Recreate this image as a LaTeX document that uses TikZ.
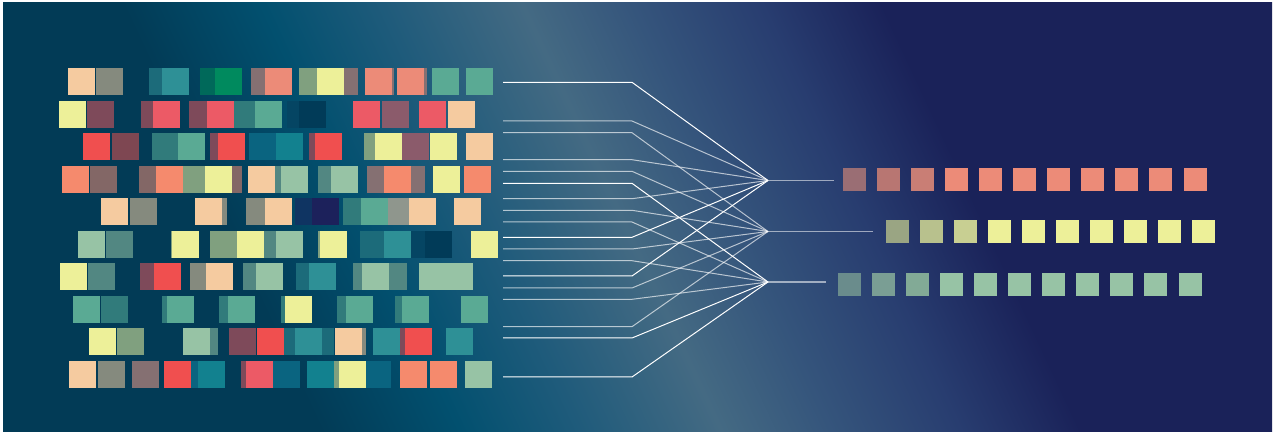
\documentclass[tikz,border=0pt]{standalone}
\definecolor{bgA}{HTML}{023B56}
\definecolor{bgB}{HTML}{02506F}
\definecolor{bgC}{HTML}{1F5B7B}
\definecolor{bgD}{HTML}{446A83}
\definecolor{bgE}{HTML}{35557C}
\definecolor{bgF}{HTML}{283D70}
\definecolor{bgG}{HTML}{1A2259}
\definecolor{peach}{HTML}{F5CBA0}
\definecolor{stone}{HTML}{858A7E}
\definecolor{dkteal}{HTML}{1C6B7A}
\definecolor{teal}{HTML}{2E9096}
\definecolor{pine}{HTML}{00695A}
\definecolor{jade}{HTML}{008A5E}
\definecolor{taupe}{HTML}{857072}
\definecolor{salmon}{HTML}{EC8B78}
\definecolor{olive}{HTML}{80A07F}
\definecolor{lemon}{HTML}{EDF099}
\definecolor{sea}{HTML}{5AAA94}
\definecolor{plum}{HTML}{7E4A5A}
\definecolor{wine}{HTML}{7E4752}
\definecolor{mauve}{HTML}{8B5B6B}
\definecolor{rose}{HTML}{EC5A66}
\definecolor{red}{HTML}{F04F4F}
\definecolor{deepteal}{HTML}{317B7B}
\definecolor{ink}{HTML}{013B58}
\definecolor{inkb}{HTML}{054563}
\definecolor{mint}{HTML}{97C3A5}
\definecolor{slate}{HTML}{528782}
\definecolor{coral}{HTML}{F58A6D}
\definecolor{cocoa}{HTML}{836766}
\definecolor{ocean}{HTML}{0A6480}
\definecolor{cyan}{HTML}{12818F}
\definecolor{navy}{HTML}{0F3462}
\definecolor{indigo}{HTML}{1C215B}
\definecolor{ash}{HTML}{8F968D}
\definecolor{pA}{HTML}{9A6E74}
\definecolor{pB}{HTML}{B87672}
\definecolor{pC}{HTML}{C97E75}
\definecolor{qA}{HTML}{9AA583}
\definecolor{qB}{HTML}{B8C18D}
\definecolor{qC}{HTML}{C8CF92}
\definecolor{uA}{HTML}{6A8C8C}
\definecolor{uB}{HTML}{7A9E94}
\definecolor{uC}{HTML}{82AA96}
\pgfdeclarehorizontalshading{backdrop}{100bp}{color(0bp)=(bgA); color(36.07bp)=(bgA); color(40.77bp)=(bgB); color(44.8bp)=(bgC); color(49.5bp)=(bgD); color(53.19bp)=(bgE); color(57.55bp)=(bgF); color(61.58bp)=(bgG); color(100bp)=(bgG)}
\begin{document}
\begin{tikzpicture}[x=1pt, y=-1pt, every node/.style={minimum size=27pt, inner sep=0pt, outer sep=0pt, anchor=west}, small/.style={minimum size=23pt}, wire/.style={white, line width=1pt}, faint/.style={white, opacity=0.65, line width=1pt}, lead/.style={white, opacity=0.55, line width=1.6pt}]
    \useasboundingbox (0,0) rectangle (1275,435);
    \fill[white] (0,0) rectangle (1275,435);
    \begin{scope}
        \clip (3,3) rectangle (1272,432);
        \begin{scope}[transform canvas={xslant=-0.466}]
            \shade[shading=backdrop] (-210,0) rectangle (1280,435);
        \end{scope}
    \end{scope}

    \node[fill=peach] (a1) at (68,81.5) {};
    \node[fill=stone] (a2) at (96,81.5) {};
    \node[fill=dkteal] (a3) at (149,81.5) {};
    \node[fill=teal] (a4) at (162,81.5) {};
    \node[fill=pine] (a5) at (200,81.5) {};
    \node[fill=jade] (a6) at (215,81.5) {};
    \node[fill=taupe] (a7) at (251,81.5) {};
    \node[fill=salmon] (a8) at (265,81.5) {};
    \node[fill=olive] (a9) at (299,81.5) {};
    \node[fill=taupe] (a10) at (331,81.5) {};
    \node[fill=lemon] (a11) at (317,81.5) {};
    \node[fill=taupe] (a12) at (367,81.5) {};
    \node[fill=salmon] (a13) at (365,81.5) {};
    \node[fill=taupe] (a14) at (400,81.5) {};
    \node[fill=salmon] (a15) at (397,81.5) {};
    \node[fill=sea] (a16) at (432,81.5) {};
    \node[fill=sea] (a17) at (466,81.5) {};

    \node[fill=lemon] (b1) at (59,114.5) {};
    \node[fill=plum] (b2) at (87,114.5) {};
    \node[fill=plum] (b3) at (141,114.5) {};
    \node[fill=rose] (b4) at (153,114.5) {};
    \node[fill=plum] (b5) at (189,114.5) {};
    \node[fill=rose] (b6) at (207,114.5) {};
    \node[fill=deepteal] (b7) at (234,114.5) {};
    \node[fill=sea] (b8) at (255,114.5) {};
    \node[fill=inkb] (b9) at (287,114.5) {};
    \node[fill=ink] (b10) at (299,114.5) {};
    \node[fill=rose] (b11) at (353,114.5) {};
    \node[fill=mauve] (b12) at (382,114.5) {};
    \node[fill=rose] (b13) at (419,114.5) {};
    \node[fill=peach] (b14) at (448,114.5) {};

    \node[fill=red] (c1) at (83,146.5) {};
    \node[fill=wine] (c2) at (112,146.5) {};
    \node[fill=deepteal] (c3) at (152,146.5) {};
    \node[fill=sea] (c4) at (178,146.5) {};
    \node[fill=plum] (c5) at (210,146.5) {};
    \node[fill=red] (c6) at (218,146.5) {};
    \node[fill=ocean] (c7) at (249,146.5) {};
    \node[fill=cyan] (c8) at (276,146.5) {};
    \node[fill=plum] (c9) at (309,146.5) {};
    \node[fill=red] (c10) at (315,146.5) {};
    \node[fill=olive] (c11) at (364,146.5) {};
    \node[fill=lemon] (c12) at (375,146.5) {};
    \node[fill=mauve] (c13) at (402,146.5) {};
    \node[fill=lemon] (c14) at (430,146.5) {};
    \node[fill=peach] (c15) at (466,146.5) {};

    \node[fill=coral] (d1) at (62,179.5) {};
    \node[fill=cocoa] (d2) at (90,179.5) {};
    \node[fill=cocoa] (d3) at (139,179.5) {};
    \node[fill=coral] (d4) at (156,179.5) {};
    \node[fill=olive] (d5) at (183,179.5) {};
    \node[fill=cocoa] (d6) at (215,179.5) {};
    \node[fill=lemon] (d7) at (205,179.5) {};
    \node[fill=peach] (d8) at (248,179.5) {};
    \node[fill=slate] (d9) at (275,179.5) {};
    \node[fill=mint] (d10) at (281,179.5) {};
    \node[fill=slate] (d11) at (318,179.5) {};
    \node[fill=mint] (d12) at (331,179.5) {};
    \node[fill=taupe] (d13) at (367,179.5) {};
    \node[fill=taupe] (d14) at (398,179.5) {};
    \node[fill=coral] (d15) at (384,179.5) {};
    \node[fill=lemon] (d16) at (433,179.5) {};
    \node[fill=coral] (d17) at (464,179.5) {};

    \node[fill=peach] (e1) at (101,211.5) {};
    \node[fill=stone] (e2) at (130,211.5) {};
    \node[fill=stone] (e3) at (200,211.5) {};
    \node[fill=peach] (e4) at (195,211.5) {};
    \node[fill=stone] (e5) at (246,211.5) {};
    \node[fill=peach] (e6) at (265,211.5) {};
    \node[fill=navy] (e7) at (295,211.5) {};
    \node[fill=indigo] (e8) at (312,211.5) {};
    \node[fill=deepteal] (e9) at (343,211.5) {};
    \node[fill=sea] (e10) at (361,211.5) {};
    \node[fill=ash] (e11) at (388,211.5) {};
    \node[fill=peach] (e12) at (409,211.5) {};
    \node[fill=peach] (e13) at (454,211.5) {};

    \node[fill=mint] (f1) at (78,244.5) {};
    \node[fill=slate] (f2) at (106,244.5) {};
    \node[fill=olive] (f3) at (171,244.5) {};
    \node[fill=lemon] (f4) at (172,244.5) {};
    \node[fill=olive] (f5) at (210,244.5) {};
    \node[fill=lemon] (f6) at (237,244.5) {};
    \node[fill=slate] (f7) at (264,244.5) {};
    \node[fill=mint] (f8) at (276,244.5) {};
    \node[fill=olive] (f9) at (318,244.5) {};
    \node[fill=lemon] (f10) at (320,244.5) {};
    \node[fill=dkteal] (f11) at (360,244.5) {};
    \node[fill=teal] (f12) at (384,244.5) {};
    \node[fill=inkb] (f13) at (411,244.5) {};
    \node[fill=ink] (f14) at (425,244.5) {};
    \node[fill=lemon] (f15) at (471,244.5) {};

    \node[fill=lemon] (g1) at (60,276.5) {};
    \node[fill=slate] (g2) at (88,276.5) {};
    \node[fill=plum] (g3) at (140,276.5) {};
    \node[fill=red] (g4) at (154,276.5) {};
    \node[fill=stone] (g5) at (190,276.5) {};
    \node[fill=peach] (g6) at (206,276.5) {};
    \node[fill=slate] (g7) at (243,276.5) {};
    \node[fill=mint] (g8) at (256,276.5) {};
    \node[fill=dkteal] (g9) at (296,276.5) {};
    \node[fill=teal] (g10) at (309,276.5) {};
    \node[fill=slate] (g11) at (353,276.5) {};
    \node[fill=slate] (g12) at (380,276.5) {};
    \node[fill=mint] (g13) at (362,276.5) {};
    \node[fill=mint] (g14) at (419,276.5) {};
    \node[fill=mint] (g15) at (446,276.5) {};

    \node[fill=sea] (h1) at (73,309.5) {};
    \node[fill=deepteal] (h2) at (101,309.5) {};
    \node[fill=deepteal] (h3) at (162,309.5) {};
    \node[fill=sea] (h4) at (167,309.5) {};
    \node[fill=deepteal] (h5) at (219,309.5) {};
    \node[fill=sea] (h6) at (228,309.5) {};
    \node[fill=deepteal] (h7) at (281,309.5) {};
    \node[fill=lemon] (h8) at (285,309.5) {};
    \node[fill=deepteal] (h9) at (337,309.5) {};
    \node[fill=sea] (h10) at (346,309.5) {};
    \node[fill=deepteal] (h11) at (395,309.5) {};
    \node[fill=sea] (h12) at (402,309.5) {};
    \node[fill=sea] (h13) at (461,309.5) {};

    \node[fill=lemon] (i1) at (89,341.5) {};
    \node[fill=olive] (i2) at (117,341.5) {};
    \node[fill=slate] (i3) at (191,341.5) {};
    \node[fill=mint] (i4) at (183,341.5) {};
    \node[fill=plum] (i5) at (229,341.5) {};
    \node[fill=red] (i6) at (257,341.5) {};
    \node[fill=dkteal] (i7) at (284,341.5) {};
    \node[fill=dkteal] (i8) at (307,341.5) {};
    \node[fill=teal] (i9) at (295,341.5) {};
    \node[fill=stone] (i10) at (339,341.5) {};
    \node[fill=peach] (i11) at (335,341.5) {};
    \node[fill=plum] (i12) at (378,341.5) {};
    \node[fill=teal] (i13) at (373,341.5) {};
    \node[fill=red] (i14) at (405,341.5) {};
    \node[fill=teal] (i15) at (446,341.5) {};

    \node[fill=peach] (j1) at (69,374.5) {};
    \node[fill=stone] (j2) at (98,374.5) {};
    \node[fill=taupe] (j3) at (132,374.5) {};
    \node[fill=red] (j4) at (164,374.5) {};
    \node[fill=ocean] (j5) at (191,374.5) {};
    \node[fill=cyan] (j6) at (198,374.5) {};
    \node[fill=plum] (j7) at (241,374.5) {};
    \node[fill=rose] (j8) at (246,374.5) {};
    \node[fill=ocean] (j9) at (273,374.5) {};
    \node[fill=cyan] (j10) at (307,374.5) {};
    \node[fill=olive] (j11) at (334,374.5) {};
    \node[fill=ocean] (j12) at (364,374.5) {};
    \node[fill=lemon] (j13) at (339,374.5) {};
    \node[fill=coral] (j14) at (400,374.5) {};
    \node[fill=coral] (j15) at (430,374.5) {};
    \node[fill=mint] (j16) at (465,374.5) {};

    \coordinate (hub1) at (768,180.5);
    \coordinate (hub2) at (768,231.5);
    \coordinate (hub3) at (768,282);
    \coordinate (s1) at (503,82.3);
    \coordinate (s2) at (503,121);
    \coordinate (s3) at (503,132.7);
    \coordinate (s4) at (503,159.7);
    \coordinate (s5) at (503,171.3);
    \coordinate (s6) at (503,183.3);
    \coordinate (s7) at (503,198.7);
    \coordinate (s8) at (503,210.3);
    \coordinate (s9) at (503,222);
    \coordinate (s10) at (503,237.3);
    \coordinate (s11) at (503,249);
    \coordinate (s12) at (503,260.7);
    \coordinate (s13) at (503,276);
    \coordinate (s14) at (503,288);
    \coordinate (s15) at (503,299.3);
    \coordinate (s16) at (503,326.7);
    \coordinate (s17) at (503,338);
    \coordinate (s18) at (503,377);
    \draw[wire] (s1) -- ++(129,0) -- (hub1);
    \draw[faint] (s2) -- ++(129,0) -- (hub1);
    \draw[faint] (s3) -- ++(129,0) -- (hub2);
    \draw[faint] (s4) -- ++(129,0) -- (hub1);
    \draw[faint] (s5) -- ++(129,0) -- (hub2);
    \draw[wire] (s6) -- ++(129,0) -- (hub3);
    \draw[faint] (s7) -- ++(129,0) -- (hub1);
    \draw[faint] (s8) -- ++(129,0) -- (hub2);
    \draw[faint] (s9) -- ++(129,0) -- (hub3);
    \draw[wire] (s10) -- ++(129,0) -- (hub1);
    \draw[faint] (s11) -- ++(129,0) -- (hub2);
    \draw[faint] (s12) -- ++(129,0) -- (hub3);
    \draw[wire] (s13) -- ++(129,0) -- (hub1);
    \draw[faint] (s14) -- ++(129,0) -- (hub2);
    \draw[faint] (s15) -- ++(129,0) -- (hub3);
    \draw[faint] (s16) -- ++(129,0) -- (hub2);
    \draw[wire] (s17) -- ++(129,0) -- (hub3);
    \draw[wire] (s18) -- ++(129,0) -- (hub3);
    \coordinate (t1) at (834,180.5);
    \coordinate (t2) at (873,231.5);
    \coordinate (t3) at (826,282);
    \draw[lead] (hub1) -- (t1);
    \draw[lead] (hub2) -- (t2);
    \draw[lead] (hub3) -- (t3);

    \node[small, fill=pA] (p1) at (843,179.5) {};
    \node[small, fill=pB] (p2) at (877,179.5) {};
    \node[small, fill=pC] (p3) at (911,179.5) {};
    \node[small, fill=salmon] (p4) at (945,179.5) {};
    \node[small, fill=salmon] (p5) at (979,179.5) {};
    \node[small, fill=salmon] (p6) at (1013,179.5) {};
    \node[small, fill=salmon] (p7) at (1047,179.5) {};
    \node[small, fill=salmon] (p8) at (1081,179.5) {};
    \node[small, fill=salmon] (p9) at (1115,179.5) {};
    \node[small, fill=salmon] (p10) at (1149,179.5) {};
    \node[small, fill=salmon] (p11) at (1184,179.5) {};

    \node[small, fill=qA] (q1) at (886,231.5) {};
    \node[small, fill=qB] (q2) at (920,231.5) {};
    \node[small, fill=qC] (q3) at (954,231.5) {};
    \node[small, fill=lemon] (q4) at (988,231.5) {};
    \node[small, fill=lemon] (q5) at (1022,231.5) {};
    \node[small, fill=lemon] (q6) at (1056,231.5) {};
    \node[small, fill=lemon] (q7) at (1090,231.5) {};
    \node[small, fill=lemon] (q8) at (1124,231.5) {};
    \node[small, fill=lemon] (q9) at (1158,231.5) {};
    \node[small, fill=lemon] (q10) at (1192,231.5) {};

    \node[small, fill=uA] (u1) at (838,284.5) {};
    \node[small, fill=uB] (u2) at (872,284.5) {};
    \node[small, fill=uC] (u3) at (906,284.5) {};
    \node[small, fill=mint] (u4) at (940,284.5) {};
    \node[small, fill=mint] (u5) at (974,284.5) {};
    \node[small, fill=mint] (u6) at (1008,284.5) {};
    \node[small, fill=mint] (u7) at (1042,284.5) {};
    \node[small, fill=mint] (u8) at (1076,284.5) {};
    \node[small, fill=mint] (u9) at (1110,284.5) {};
    \node[small, fill=mint] (u10) at (1144,284.5) {};
    \node[small, fill=mint] (u11) at (1179,284.5) {};
\end{tikzpicture}
\end{document}
